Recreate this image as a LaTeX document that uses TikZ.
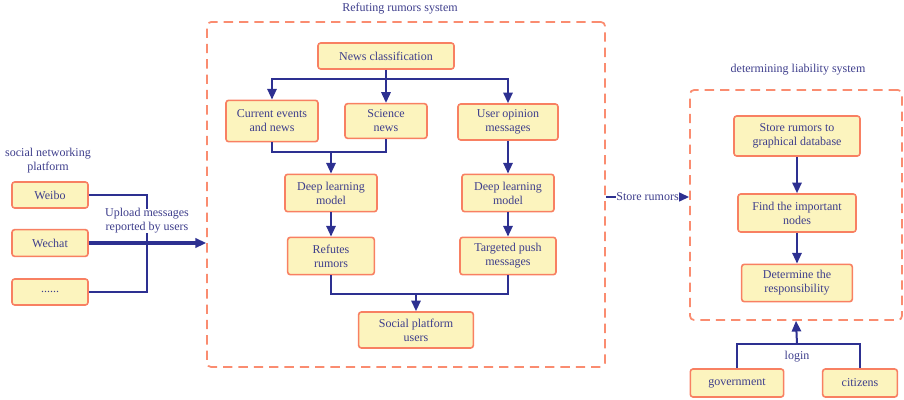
\documentclass[tikz,border=0pt]{standalone}
\usepackage{fontspec}
\setmainfont{Liberation Serif}
\usetikzlibrary{arrows.meta}
\definecolor{navy}{RGB}{45,48,145}
\definecolor{txtblue}{RGB}{62,62,140}
\definecolor{boxline}{RGB}{248,128,98}
\definecolor{boxfill}{RGB}{252,244,190}
\definecolor{dashline}{RGB}{250,140,112}
\tikzset{
  box/.style={draw=boxline, fill=boxfill, line width=1.2pt, rounded corners=2pt,
    align=center, text=txtblue, inner sep=0pt, font=\fontsize{9}{10.5}\selectfont},
  sysbox/.style={draw=dashline, line width=1.3pt, dash pattern=on 7pt off 4.5pt,
    rounded corners=3pt, inner sep=0pt},
  lbl/.style={text=txtblue, align=center, inner sep=1pt, font=\fontsize{9}{10.5}\selectfont},
  link/.style={draw=navy, line width=1.5pt},
  arr/.style={link, -{Triangle[length=8pt,width=7pt]}}
}
\begin{document}
\begin{tikzpicture}[x=0.75pt,y=-0.75pt]
\useasboundingbox (0,0) rectangle (904,400);
\node[sysbox, minimum width=298.5pt, minimum height=258.75pt] (refsys) at (406,194.5) {};
\node[sysbox, minimum width=159pt, minimum height=172.5pt] (liab) at (796,205) {};
\node[lbl] (reftitle) at (400,9) {Refuting rumors system};
\node[lbl] (liabtitle) at (798,70) {determining liability system};
\node[lbl] (platform) at (48,161) {social networking\\platform};
\node[box, minimum width=57pt, minimum height=19.5pt] (weibo) at (50,195) {Weibo};
\node[box, minimum width=57pt, minimum height=20pt] (wechat) at (50,243) {Wechat};
\node[box, minimum width=57pt, minimum height=19.5pt] (dots) at (50,292) {......};
\node[box, minimum width=102pt, minimum height=19.5pt] (newscls) at (386,56) {News classification};
\node[box, minimum width=69pt, minimum height=31pt] (cur) at (272,121) {Current events\\and news};
\node[box, minimum width=61.5pt, minimum height=26pt] (sci) at (386,121) {Science\\news};
\node[box, minimum width=75pt, minimum height=27pt] (usr) at (508,122) {User opinion\\messages};
\node[box, minimum width=69pt, minimum height=28pt] (deep1) at (331,193) {Deep learning\\model};
\node[box, minimum width=69pt, minimum height=28pt] (deep2) at (508,193) {Deep learning\\model};
\node[box, minimum width=65pt, minimum height=28pt] (refutes) at (331,256) {Refutes\\rumors};
\node[box, minimum width=72pt, minimum height=28pt] (push) at (508,256) {Targeted push\\messages};
\node[box, minimum width=86pt, minimum height=27pt] (social) at (416,330) {Social platform\\users};
\node[box, minimum width=94.5pt, minimum height=30pt] (store) at (797,136) {Store rumors to\\graphical database};
\node[box, minimum width=88.5pt, minimum height=28.5pt] (find) at (797,213) {Find the important\\nodes};
\node[box, minimum width=83pt, minimum height=28pt] (resp) at (797,283) {Determine the\\responsibility};
\node[box, minimum width=70pt, minimum height=21pt] (gov) at (737,383) {government};
\node[box, minimum width=56pt, minimum height=21pt] (citizens) at (860,383) {citizens};
\coordinate (bus) at (147,195);
\draw[link] (weibo.east) -- (bus) |- (dots.east);
\draw[arr, line width=2.3pt] (wechat.east) -- (refsys.west |- wechat.east);
\node[lbl, fill=white, inner sep=0pt] (upload) at (147,221) {Upload messages\\reported by users};
\coordinate (split) at (386,79);
\draw[link] (newscls.south) -- (split);
\draw[arr] (split) -| (cur.north);
\draw[arr] (split) -- (sci.north);
\draw[arr] (split) -| (usr.north);
\coordinate (merge1) at (331,152);
\draw[link] (cur.south) |- (merge1) -| (sci.south);
\draw[arr] (merge1) -- (deep1.north);
\draw[arr] (usr.south) -- (deep2.north);
\draw[arr] (deep1.south) -- (refutes.north);
\draw[arr] (deep2.south) -- (push.north);
\coordinate (merge2) at (416,294);
\draw[link] (refutes.south) |- (merge2) -| (push.south);
\draw[arr] (merge2) -- (social.north);
\draw[arr] (refsys.east |- 0,197) -- node[lbl, fill=white, inner sep=0.5pt] (storelbl) {Store rumors} (liab.west |- 0,197);
\draw[arr] (store.south) -- (find.north);
\draw[arr] (find.south) -- (resp.north);
\coordinate (login) at (797,344);
\draw[link] (gov.north) |- (login) -| (citizens.north);
\draw[arr] (login) -- (liab.south);
\node[lbl] (loginlbl) at (797,357) {login};
\end{tikzpicture}
\end{document}
